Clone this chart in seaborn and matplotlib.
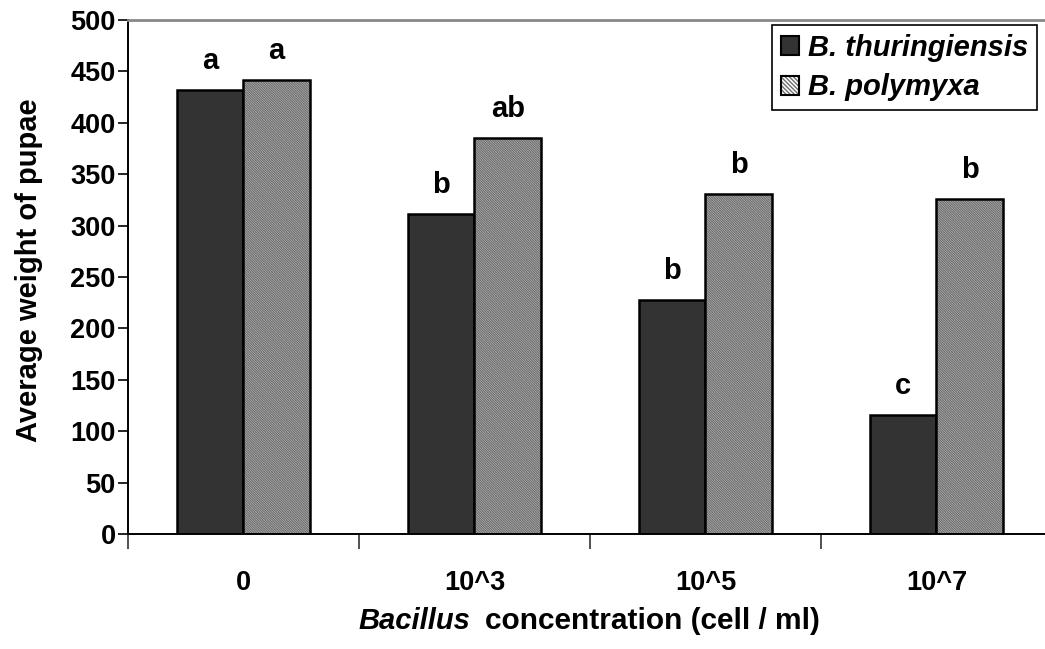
import matplotlib
matplotlib.use("Agg")
import matplotlib.pyplot as plt
import seaborn as sns
import pandas as pd
from matplotlib.patches import Patch

concentrations = ["0", "10^3", "10^5", "10^7"]
species = ["B. thuringiensis", "B. polymyxa"]
bt_weight = [432, 311, 228, 116]
bp_weight = [442, 385, 331, 326]
bt_letters = ["a", "b", "b", "c"]
bp_letters = ["a", "ab", "b", "b"]
y_ticks = [0, 50, 100, 150, 200, 250, 300, 350, 400, 450, 500]

df = pd.DataFrame({
    "conc": concentrations * 2,
    "weight": bt_weight + bp_weight,
    "species": [species[0]] * 4 + [species[1]] * 4,
})

sns.set_theme(style="white")
plt.rcParams["font.family"] = ["Liberation Sans", "DejaVu Sans"]
plt.rcParams["font.weight"] = "bold"
plt.rcParams["hatch.linewidth"] = 1.0
for k in ["text.color", "axes.labelcolor", "xtick.color", "ytick.color"]:
    plt.rcParams[k] = "black"

fig = plt.figure(figsize=(10.45, 6.49), dpi=100)
ax = fig.add_axes([128 / 1045, 1 - 534 / 649, 924 / 1045, 514 / 649])

sns.barplot(data=df, x="conc", y="weight", hue="species", order=concentrations,
            hue_order=species, palette=["#333333", "white"], width=0.575, gap=0,
            edgecolor="black", linewidth=1.8, legend=False, ax=ax)

HATCH = "\\" * 14
HATCH_COLOR = "#6e6e6e"
for p in ax.containers[1]:
    p.set_hatch(HATCH)
    p.set_edgecolor(HATCH_COLOR)
    p.set_linewidth(0)
    ax.bar(p.get_x(), p.get_height(), width=p.get_width(), align="edge",
           fill=False, edgecolor="black", linewidth=1.8, zorder=p.get_zorder() + 0.1)

for cont, letters in zip(ax.containers[:2], [bt_letters, bp_letters]):
    for p, lab in zip(cont, letters):
        ax.annotate(lab, (p.get_x() + p.get_width() / 2, p.get_height()),
                    xytext=(0, 21), textcoords="offset pixels", ha="center",
                    va="baseline", fontsize=21, fontweight="bold", color="black")

TICK_FS = 19.5
LABEL_FS = 21
ax.set_ylim(0, 500)
ax.set_xlim(-0.5, 3.5)
ax.set_yticks(y_ticks)
ax.set_yticklabels([str(v) for v in y_ticks], fontsize=TICK_FS, fontweight="bold")
ax.set_xticks([-0.5, 0.5, 1.5, 2.5])
ax.set_xticklabels([])
ax.set_xticks(range(4), minor=True)
ax.set_xticklabels(concentrations, minor=True, fontsize=TICK_FS, fontweight="bold")
ax.tick_params(axis="x", which="major", direction="out", length=11, width=1.2,
               color="#333333", bottom=True)
ax.tick_params(axis="x", which="minor", length=0, pad=26)
ax.tick_params(axis="y", direction="out", length=7, width=1.2, color="black",
               left=True, pad=2)

for s in ["left", "bottom"]:
    ax.spines[s].set_color("black")
    ax.spines[s].set_linewidth(1.4)
ax.spines["top"].set_color("#888888")
ax.spines["top"].set_linewidth(2)
ax.spines["right"].set_visible(False)

ax.set_ylabel("Average weight of pupae", fontsize=LABEL_FS, fontweight="bold")
ax.yaxis.set_label_coords(-(128 - 43) / 924, 0.5 - ((270 - 277) / 514))
ax.set_xlabel("")
fig.text(470 / 1045, 1 - 621 / 649, "Bacillus", fontsize=21, fontweight="bold",
         style="italic", ha="right", va="center")
fig.text(485 / 1045, 1 - 621 / 649, "concentration (cell / ml)", fontsize=21.5,
         fontweight="bold", ha="left", va="center")

h1 = Patch(facecolor="#333333", edgecolor="black", linewidth=1.5)
h2a = Patch(facecolor="white", edgecolor=HATCH_COLOR, hatch="\\" * 8, linewidth=0)
h2b = Patch(facecolor="none", edgecolor="black", linewidth=1.5)
leg = fig.legend([h1, (h2a, h2b)], species, loc="upper left",
                 bbox_to_anchor=(772 / 1045, 1 - 25 / 649), frameon=True,
                 fancybox=False, edgecolor="black", framealpha=1,
                 prop={"size": 21, "weight": "bold", "style": "italic"},
                 handlelength=0.62, handleheight=0.62, handletextpad=0.3,
                 borderpad=0.3, labelspacing=0.4, borderaxespad=0)
leg.get_frame().set_linewidth(1.2)

fig.savefig("out.png", dpi=100)
